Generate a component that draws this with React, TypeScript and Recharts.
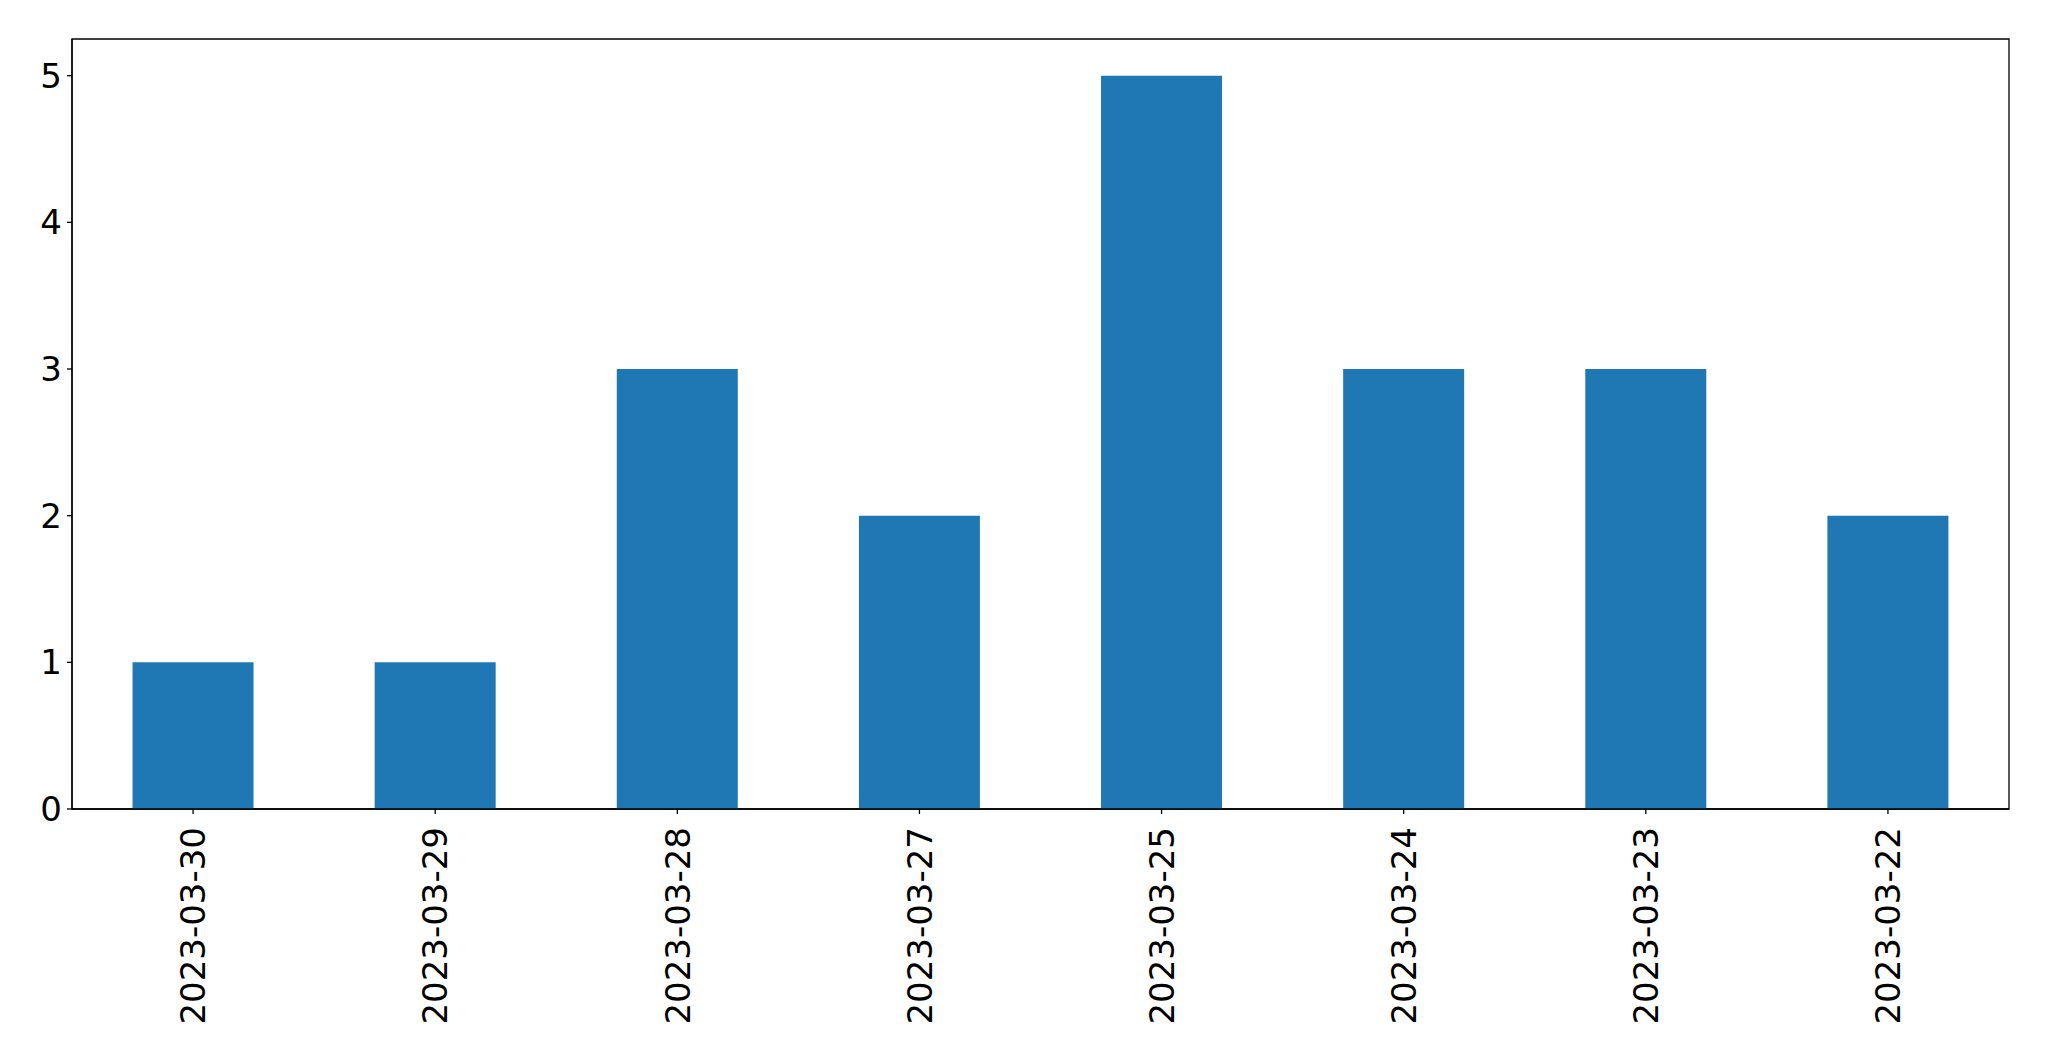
import React from 'react';
import { BarChart, Bar, XAxis, YAxis, ReferenceArea } from 'recharts';

const dates = [
  '2023-03-30',
  '2023-03-29',
  '2023-03-28',
  '2023-03-27',
  '2023-03-25',
  '2023-03-24',
  '2023-03-23',
  '2023-03-22',
];
const counts = [1, 1, 3, 2, 5, 3, 3, 2];
const yTicks = [0, 1, 2, 3, 4, 5];
const yMax = 5.25;

const chartData = dates.map((date, i) => ({ date, count: counts[i] }));

const FONT = '"DejaVu Sans", sans-serif';

const DateTick = (props: any) => {
  const { x, y, payload } = props;
  return (
    <text
      x={x}
      y={y}
      dy="0.36em"
      textAnchor="end"
      transform={`rotate(-90, ${x}, ${y})`}
      fill="#000"
      fontSize={34}
      fontFamily={FONT}
    >
      {payload.value}
    </text>
  );
};

const App: React.FC = () => {
  return (
    <div style={{ position: 'absolute', left: 0, top: 0, width: 2049, height: 1061, background: '#fff' }}>
      <BarChart
        width={2049}
        height={1061}
        data={chartData}
        margin={{ top: 39, right: 40, left: 0, bottom: 0 }}
        barCategoryGap="25%"
      >
        <XAxis
          dataKey="date"
          height={252}
          interval={0}
          tickSize={5}
          tickMargin={13}
          tick={<DateTick />}
          axisLine={{ stroke: '#000', strokeWidth: 1.3 }}
          tickLine={{ stroke: '#000', strokeWidth: 1.3 }}
        />
        <YAxis
          type="number"
          domain={[0, yMax]}
          ticks={yTicks}
          width={72}
          tickSize={5}
          tickMargin={5}
          interval={0}
          tick={{ fill: '#000', fontSize: 34, fontFamily: FONT }}
          axisLine={{ stroke: '#000', strokeWidth: 1.3 }}
          tickLine={{ stroke: '#000', strokeWidth: 1.3 }}
        />
        <Bar dataKey="count" fill="#1f77b4" isAnimationActive={false} />
        <ReferenceArea
          y1={0}
          y2={yMax}
          fill="none"
          fillOpacity={0}
          stroke="#000"
          strokeWidth={1.3}
          strokeOpacity={1}
        />
      </BarChart>
    </div>
  );
};

export default App;
